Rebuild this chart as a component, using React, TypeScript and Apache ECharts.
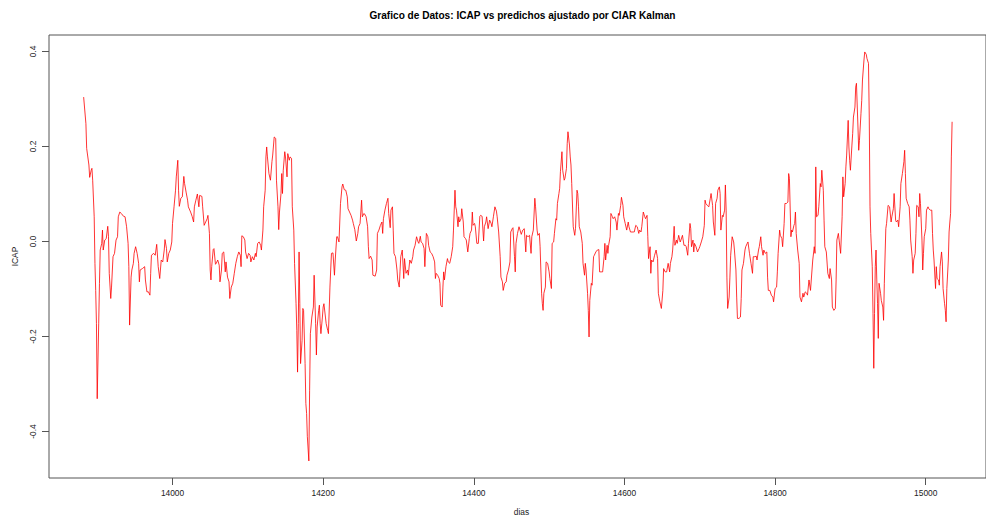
import React, { useEffect, useRef } from 'react';
import * as echarts from 'echarts';

const titulo = 'Grafico de Datos: ICAP vs predichos ajustado por CIAR Kalman';
const xNombre = 'dias';
const yNombre = 'ICAP';
const xTicks = [14000, 14200, 14400, 14600, 14800, 15000];
const yTicks = [-0.4, -0.2, 0.0, 0.2, 0.4];

const dias = [
  13882, 13885, 13886, 13889, 13890, 13892, 13893, 13894, 13896, 13897,
  13898, 13899, 13900, 13902, 13903, 13904, 13906, 13907, 13908, 13910,
  13912, 13914, 13915, 13916, 13918, 13919, 13921, 13923, 13925, 13927,
  13928, 13930, 13932, 13935, 13937, 13939, 13941, 13942, 13943, 13945,
  13946, 13948, 13949, 13951, 13953, 13955, 13956, 13957, 13960, 13963,
  13964, 13966, 13968, 13970, 13971, 13972, 13975, 13977, 13979, 13981,
  13983, 13985, 13987, 13989, 13990, 13992, 13993, 13995, 13997, 13999,
  14000, 14002, 14004, 14005, 14007, 14008, 14009, 14011, 14013, 14015,
  14016, 14018, 14020, 14021, 14024, 14026, 14028, 14029, 14031, 14033,
  14035, 14036, 14039, 14040, 14042, 14044, 14046, 14047, 14049, 14050,
  14051, 14052, 14054, 14055, 14057, 14058, 14060, 14062, 14063, 14065,
  14066, 14068, 14070, 14071, 14073,
  14075, 14076, 14078, 14080, 14082, 14084, 14086, 14088, 14090, 14091,
  14092, 14094, 14096, 14097, 14099, 14101, 14103, 14104, 14106, 14108,
  14110, 14111, 14113, 14115, 14117, 14118, 14120, 14121, 14123, 14124,
  14125, 14126, 14128, 14130, 14132, 14133, 14135, 14137, 14138, 14140,
  14141, 14142, 14144, 14145, 14146, 14147, 14149, 14150, 14152, 14153,
  14155, 14156, 14158, 14159, 14161, 14162, 14164, 14165, 14166, 14167,
  14168, 14169, 14170, 14172, 14173, 14174, 14176, 14177, 14178, 14179,
  14181, 14182, 14183, 14185, 14187, 14188, 14190, 14191, 14192, 14194,
  14195, 14196, 14197, 14199, 14200, 14201, 14203, 14204, 14206, 14207,
  14209, 14210, 14211, 14213, 14215, 14216, 14218, 14219, 14221, 14223,
  14225, 14226, 14228, 14230, 14232, 14233, 14235, 14237, 14239, 14240,
  14242, 14244, 14246, 14247, 14249, 14251, 14252, 14254, 14255, 14257,
  14259, 14260, 14261, 14263, 14265,
  14266, 14269, 14271, 14272, 14274, 14276, 14278, 14279, 14280, 14282,
  14284, 14286, 14287, 14289, 14290, 14292, 14293, 14294, 14296, 14298,
  14299, 14301, 14302, 14303, 14305, 14307, 14308, 14310, 14312, 14313,
  14315, 14317, 14319, 14320, 14322, 14324, 14326, 14327, 14329, 14330,
  14332, 14334, 14335, 14337, 14339, 14340, 14342, 14344, 14346, 14348,
  14349, 14350, 14352, 14354, 14355, 14356, 14358, 14359, 14360, 14361,
  14363, 14365, 14366, 14368, 14370, 14372, 14373, 14375, 14376, 14377,
  14379, 14380, 14381, 14383, 14384, 14386, 14387, 14389, 14390, 14392,
  14394, 14395, 14397, 14398, 14399, 14401, 14402, 14404, 14406, 14408,
  14409, 14411, 14413, 14414, 14416, 14417, 14419, 14421, 14423, 14424,
  14426, 14428, 14430, 14431, 14433, 14435, 14436, 14438, 14439, 14441,
  14443, 14444, 14446, 14448, 14449, 14451, 14452, 14454, 14455,
  14456, 14458, 14460, 14463, 14465, 14467, 14469, 14470, 14472, 14474,
  14476, 14477, 14479, 14481, 14482, 14484, 14485, 14487, 14488, 14490,
  14491, 14492, 14493, 14495, 14496, 14498, 14500, 14501, 14503, 14504,
  14506, 14507, 14509, 14510, 14511, 14513, 14514, 14515, 14517, 14518,
  14520, 14521, 14523, 14524, 14525, 14527, 14528, 14529, 14530, 14532,
  14534, 14535, 14537, 14538, 14539, 14540, 14542, 14544, 14545, 14547,
  14548, 14549, 14551, 14552, 14553, 14554, 14556, 14557, 14559, 14560,
  14562, 14564, 14566, 14567, 14569, 14571, 14573, 14574, 14575, 14577,
  14578, 14579, 14581, 14582, 14584, 14585, 14587, 14589, 14590, 14592,
  14593, 14595, 14596, 14598, 14599, 14601, 14603, 14605, 14606, 14608,
  14610, 14612, 14613, 14615, 14617, 14619, 14620, 14622, 14623, 14625,
  14627, 14628, 14630, 14631, 14632, 14634, 14635, 14636, 14638, 14640,
  14642, 14644, 14645, 14647, 14649, 14651, 14652, 14654, 14656, 14658,
  14660, 14661, 14663, 14664, 14666, 14667, 14669, 14670, 14672, 14674,
  14675, 14677, 14679, 14681, 14682, 14684, 14685, 14687, 14688, 14689,
  14691, 14692, 14693, 14695, 14697, 14699, 14700, 14702, 14704, 14706,
  14707, 14708, 14710, 14712, 14714, 14715, 14717, 14718, 14720, 14721,
  14723, 14724, 14726, 14727, 14728, 14730, 14731, 14733, 14734, 14735,
  14736, 14737, 14739, 14740, 14741, 14743, 14745, 14746, 14748, 14749,
  14750, 14752, 14754, 14755, 14756, 14758, 14760, 14761, 14763, 14764,
  14766, 14768, 14770, 14771, 14773, 14775, 14776, 14778, 14779, 14781,
  14782, 14784, 14785, 14787, 14789, 14790, 14791, 14793, 14795, 14797,
  14798, 14800, 14802, 14803, 14804, 14806, 14807, 14809, 14810, 14812,
  14813, 14815, 14817, 14818, 14819, 14821, 14822, 14823, 14825, 14826,
  14827, 14828, 14830, 14832, 14833, 14835, 14837,
  14838, 14840, 14842, 14843, 14845, 14847, 14849, 14850, 14852, 14853,
  14854, 14855, 14857, 14858, 14860, 14861, 14862, 14864, 14865, 14866,
  14868, 14870, 14872, 14873, 14875, 14876, 14878, 14880, 14881, 14882,
  14884, 14885, 14887, 14889, 14890, 14891, 14893, 14894, 14895, 14897,
  14898, 14899, 14900, 14902, 14903, 14904, 14906, 14907, 14908, 14910,
  14911, 14912, 14914, 14915, 14916, 14918, 14919, 14921, 14922, 14924,
  14925, 14926, 14927, 14929, 14930, 14931, 14932, 14933, 14934, 14935,
  14936, 14937, 14938, 14940, 14941, 14943, 14944, 14945, 14947, 14948,
  14950, 14952, 14954, 14955, 14957, 14958, 14960, 14961, 14963, 14964,
  14966, 14967, 14969, 14971, 14972, 14973, 14974, 14976, 14978, 14979,
  14980, 14982, 14983, 14984, 14986, 14987, 14988, 14990, 14991, 14992,
  14993, 14995, 14996, 14997, 14998, 15000, 15001, 15003, 15004, 15006,
  15008, 15009, 15010, 15011, 15013, 15014, 15015, 15017, 15018, 15019,
  15021, 15022, 15023, 15025, 15026, 15027, 15028, 15030, 15031, 15032,
  15033, 15034, 15035,
];

const icap = [
  0.304, 0.248, 0.196, 0.161, 0.135, 0.150, 0.154, 0.129, 0.052, -0.046,
  -0.103, -0.173, -0.331, -0.172, -0.088, -0.018, -0.004, 0.024, -0.018, 0.003,
  0.006, 0.032, 0.010, -0.067, -0.120, -0.096, -0.032, -0.025, 0.003, 0.010,
  0.052, 0.062, 0.059, 0.053, 0.052, 0.031, -0.004, -0.053, -0.176, -0.075,
  -0.060, -0.046, -0.025, -0.011, -0.025, -0.046, -0.085, -0.060, -0.057, -0.053,
  -0.081, -0.106, -0.106, -0.113, -0.067, -0.029, -0.025, -0.029, -0.006, -0.053,
  -0.078, -0.039, -0.043, -0.018, 0.004, -0.015, -0.043, -0.025, -0.018, -0.001,
  0.038, 0.073, 0.108, 0.136, 0.171, 0.108, 0.074, 0.091, 0.094, 0.137,
  0.122, 0.104, 0.087, 0.073, 0.062, 0.053, 0.041, 0.073, 0.087, 0.100,
  0.073, 0.097, 0.095, 0.073, 0.034, 0.041, 0.048, 0.055, 0.017, -0.060,
  -0.081, -0.053, -0.017, -0.015, -0.048, -0.046, -0.039, -0.050, -0.085, -0.060,
  -0.025, -0.022, -0.064, -0.043, -0.075,
  -0.085, -0.120, -0.096, -0.088, -0.067, -0.046, -0.032, -0.022, -0.029, -0.053,
  0.012, 0.010, 0.003, -0.022, -0.036, -0.025, -0.029, -0.043, -0.032, -0.039,
  -0.025, -0.032, -0.004, -0.001, -0.008, -0.018, 0.024, 0.073, 0.108, 0.178,
  0.199, 0.178, 0.143, 0.129, 0.168, 0.182, 0.220, 0.217, 0.129, 0.073,
  0.025, 0.062, 0.101, 0.143, 0.101, 0.150, 0.189, 0.178, 0.136, 0.185,
  0.171, 0.178, 0.175, 0.073, 0.024, -0.046, -0.131, -0.187, -0.275, -0.173,
  -0.022, -0.131, -0.257, -0.208, -0.141, -0.145, -0.257, -0.341, -0.362, -0.411,
  -0.462, -0.313, -0.194, -0.159, -0.138, -0.071, -0.173, -0.239, -0.180, -0.145,
  -0.134, -0.173, -0.194, -0.159, -0.138, -0.131, -0.159, -0.173, -0.187, -0.194,
  -0.096, -0.060, -0.025, -0.024, -0.071, -0.039, 0.010, 0.010, -0.001, 0.080,
  0.115, 0.121, 0.109, 0.108, 0.094, 0.069, 0.062, 0.055, 0.045, 0.038,
  0.025, 0.001, 0.017, 0.031, 0.038, 0.087, 0.052, 0.059, 0.058, 0.052,
  0.031, -0.011, -0.036, -0.031, -0.039,
  -0.071, -0.073, -0.060, 0.017, 0.024, 0.034, 0.041, 0.017, 0.048, 0.066,
  0.080, 0.091, 0.059, 0.029, 0.066, 0.073, 0.024, -0.025, -0.032, -0.060,
  -0.081, -0.096, -0.064, -0.032, -0.018, -0.078, -0.036, -0.067, -0.060, -0.071,
  -0.039, -0.046, -0.032, -0.018, -0.008, 0.010, -0.001, -0.004, 0.011, -0.001,
  -0.004, -0.015, -0.053, 0.017, 0.010, -0.008, -0.022, -0.025, -0.032, -0.043,
  -0.078, -0.067, -0.071, -0.078, -0.088, -0.134, -0.138, -0.096, -0.064, -0.081,
  -0.053, -0.036, -0.043, -0.046, -0.032, -0.011, 0.024, 0.108, 0.073, 0.066,
  0.031, 0.052, 0.041, 0.048, 0.069, 0.041, 0.010, 0.006, 0.003, -0.022,
  0.006, 0.017, 0.024, 0.062, 0.034, 0.038, 0.031, -0.004, -0.004, 0.053,
  0.055, 0.053, 0.001, 0.031, 0.041, 0.052, 0.027, 0.045, 0.038, 0.031,
  0.052, 0.073, 0.064, 0.052, 0.020, -0.032, -0.075, -0.085, -0.103, -0.088,
  -0.085, -0.071, -0.060, -0.043, 0.020, 0.027, 0.029, -0.032, -0.064,
  -0.004, 0.017, 0.031, 0.015, 0.024, 0.027, -0.022, 0.013, 0.010, 0.013,
  -0.025, 0.010, 0.024, 0.091, 0.073, 0.024, 0.013, 0.017, -0.011, -0.109,
  -0.131, -0.145, -0.109, -0.096, -0.043, -0.046, -0.064, -0.078, -0.099, -0.004,
  -0.001, 0.017, 0.048, 0.045, 0.080, 0.101, 0.112, 0.147, 0.189, 0.150,
  0.129, 0.133, 0.154, 0.206, 0.231, 0.203, 0.178, 0.161, 0.122, 0.031,
  0.013, 0.027, 0.108, 0.101, 0.073, 0.031, 0.020, -0.004, -0.046, -0.071,
  -0.046, -0.060, -0.109, -0.145, -0.201, -0.124, -0.088, -0.092, -0.032, -0.029,
  -0.022, -0.018, -0.017, -0.064, -0.064, -0.064, -0.032, -0.004, -0.039, -0.008,
  -0.025, -0.008, 0.010, 0.059, 0.052, 0.048, 0.052, 0.041, 0.024, 0.059,
  0.055, 0.076, 0.093, 0.076, 0.052, 0.038, 0.024, 0.041, 0.031, 0.020,
  0.020, 0.020, 0.020, 0.034, 0.031, 0.017, 0.024, 0.020, 0.031, 0.062,
  0.052, 0.048, 0.055, 0.010, -0.036, -0.011, -0.067, -0.039, -0.043, -0.029,
  -0.018, -0.036, -0.109, -0.127, -0.141, -0.103, -0.057, -0.064, -0.064, -0.046,
  -0.064, -0.046, -0.032, -0.018, 0.032, -0.008, 0.003, -0.004, 0.013, -0.001,
  0.003, 0.013, -0.008, -0.008, -0.011, -0.029, -0.004, 0.038, 0.027, -0.011,
  0.003, -0.022, -0.004, -0.011, -0.022, -0.015, -0.011, -0.001, 0.010, 0.034,
  0.087, 0.080, 0.076, 0.073, 0.091, 0.101, 0.076, 0.041, 0.013, 0.080,
  0.091, 0.108, 0.115, 0.101, 0.024, 0.055, 0.052, 0.066, 0.119, 0.066,
  -0.075, -0.141, -0.117, -0.075, -0.029, 0.010, -0.001, -0.018, -0.060, -0.117,
  -0.162, -0.162, -0.159, -0.120, -0.060, -0.046, -0.018, -0.011, -0.004, -0.001,
  -0.025, -0.046, -0.067, -0.032, -0.032, -0.031, -0.039, -0.018, -0.011, 0.010,
  -0.011, -0.029, -0.018, -0.025, -0.022, -0.075, -0.103, -0.103, -0.113, -0.117,
  -0.127, -0.099, -0.096, -0.064, -0.025, 0.024, 0.013, 0.006, -0.011, 0.038,
  0.080, 0.080, 0.083, 0.143, 0.133, 0.010, 0.024, 0.020, 0.034, 0.038,
  0.062, 0.017, -0.018, -0.046, -0.117, -0.127, -0.109,
  -0.117, -0.106, -0.109, -0.113, -0.081, -0.103, -0.060, -0.039, -0.011, -0.025,
  0.157, 0.052, 0.055, 0.073, 0.122, 0.115, 0.150, 0.108, 0.045, -0.011,
  -0.022, -0.067, -0.078, -0.057, -0.081, -0.138, -0.145, -0.141, -0.081, 0.003,
  0.017, 0.003, -0.025, 0.052, 0.136, 0.094, 0.122, 0.157, 0.182, 0.255,
  0.199, 0.171, 0.150, 0.203, 0.227, 0.262, 0.283, 0.325, 0.333, 0.241,
  0.192, 0.213, 0.269, 0.297, 0.340, 0.382, 0.399, 0.394, 0.385, 0.375,
  0.262, 0.073, 0.017, -0.053, -0.152, -0.267, -0.152, -0.053, -0.018, -0.081,
  -0.131, -0.204, -0.088, -0.109, -0.124, -0.138, -0.166, -0.088, 0.027, 0.038,
  0.076, 0.073, 0.041, 0.052, 0.069, 0.101, 0.045, 0.041, 0.045, 0.031,
  0.073, 0.122, 0.143, 0.168, 0.192, 0.143, 0.091, 0.080, 0.073, 0.045,
  0.003, -0.032, -0.067, -0.039, -0.025, 0.017, 0.076, 0.073, 0.052, 0.101,
  0.080, 0.003, -0.060, -0.025, 0.010, 0.027, 0.066, 0.073, 0.069, 0.066,
  0.066, 0.017, -0.018, -0.039, -0.099, -0.053, -0.078, -0.081, -0.092, -0.053,
  -0.022, -0.043, -0.099, -0.131, -0.145, -0.169, -0.099, -0.039, 0.020, 0.041,
  0.059, 0.178, 0.252,
];

const FONT = '"Liberation Sans", Arial, sans-serif';

export default function App() {
  const ref = useRef<HTMLDivElement>(null);
  useEffect(() => {
    document.body.style.margin = '0';
    const chart = echarts.init(ref.current as HTMLDivElement, null, { renderer: 'svg' });
    const data = dias.map((d, i) => [d, icap[i]]);
    chart.setOption({
      animation: false,
      backgroundColor: '#ffffff',
      grid: {
        left: 49,
        top: 35,
        right: -8,
        bottom: 38,
        show: true,
        borderColor: '#555555',
        borderWidth: 1,
        backgroundColor: 'transparent',
      },
      xAxis: {
        type: 'value',
        min: 13836,
        max: 15080,
        splitLine: { show: false },
        axisLine: { show: false, onZero: false },
        axisTick: {
          show: true,
          length: 7,
          inside: false,
          customValues: xTicks,
          lineStyle: { color: '#555555', width: 1 },
        },
        axisLabel: {
          customValues: xTicks,
          margin: 11,
          fontSize: 8.4,
          fontFamily: FONT,
          color: '#222222',
          formatter: (v: number) => String(v),
        },
      },
      yAxis: {
        type: 'value',
        min: -0.4979,
        max: 0.4347,
        splitLine: { show: false },
        axisLine: { show: false, onZero: false },
        axisTick: {
          show: true,
          length: 7,
          inside: false,
          customValues: yTicks,
          lineStyle: { color: '#555555', width: 1 },
        },
        axisLabel: {
          customValues: yTicks,
          rotate: 90,
          margin: 12,
          fontSize: 8.4,
          fontFamily: FONT,
          color: '#222222',
          formatter: (v: number) => v.toFixed(1),
        },
      },
      graphic: [
        {
          type: 'text',
          x: 522.5,
          y: 15,
          style: {
            text: titulo,
            fontFamily: FONT,
            fontWeight: 'bold',
            fontSize: 10.1,
            fill: '#000000',
            align: 'center',
            verticalAlign: 'middle',
          },
        },
        {
          type: 'text',
          x: 521.5,
          y: 511.5,
          style: {
            text: xNombre,
            fontFamily: FONT,
            fontSize: 8.4,
            fill: '#222222',
            align: 'center',
            verticalAlign: 'middle',
          },
        },
        {
          type: 'text',
          x: 15,
          y: 256.5,
          rotation: Math.PI / 2,
          style: {
            text: yNombre,
            fontFamily: FONT,
            fontSize: 8.4,
            fill: '#222222',
            align: 'center',
            verticalAlign: 'middle',
          },
        },
      ],
      series: [
        {
          type: 'line',
          data,
          symbol: 'none',
          showSymbol: false,
          lineStyle: { color: '#ff0000', width: 0.8 },
          itemStyle: { color: '#ff0000' },
        },
      ],
    });
    return () => chart.dispose();
  }, []);
  return <div ref={ref} style={{ width: 986, height: 516 }} />;
}
